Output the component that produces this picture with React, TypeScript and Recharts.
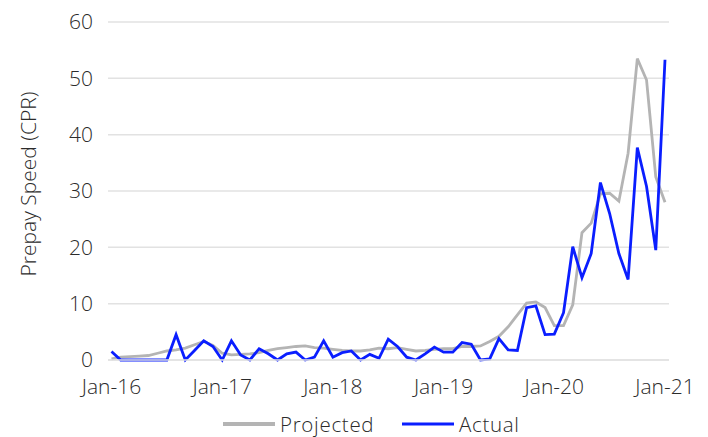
import { LineChart, Line, XAxis, YAxis, CartesianGrid } from 'recharts';

const monthNames = ['Jan', 'Feb', 'Mar', 'Apr', 'May', 'Jun', 'Jul', 'Aug', 'Sep', 'Oct', 'Nov', 'Dec'];
const years = ['16', '17', '18', '19', '20', '21'];

// monthly labels Jan-16 .. Jan-21
const categories: string[] = [];
years.forEach((yr, idx) => {
  monthNames.forEach((m, mi) => {
    if (idx < years.length - 1 || mi === 0) categories.push(`${m}-${yr}`);
  });
});

const xTicks = ['Jan-16', 'Jan-17', 'Jan-18', 'Jan-19', 'Jan-20', 'Jan-21'];
const yTicks = [0, 10, 20, 30, 40, 50, 60];

const projected = [
  0.2, 0.5, 0.6, 0.7, 0.8, 1.2, 1.6, 1.8, 2.1, 2.7, 3.3, 2.6,
  1.2, 0.9, 1.0, 1.1, 1.3, 1.7, 2.0, 2.2, 2.4, 2.5, 2.2, 2.1,
  1.9, 1.7, 1.6, 1.6, 1.8, 2.1, 2.0, 2.2, 1.9, 1.6, 1.7, 1.9,
  2.0, 2.0, 2.4, 2.4, 2.5, 3.3, 4.2, 5.9, 8.0, 10.1, 10.3, 9.3,
  6.1, 6.1, 9.8, 22.6, 24.3, 29.5, 29.6, 28.2, 36.7, 53.5, 49.7, 32.5,
  28.0,
];

const actual = [
  1.5, 0, 0, 0, 0, 0, 0, 4.5, 0, 1.7, 3.4, 2.4,
  0, 3.4, 0.9, 0, 2.0, 1.1, 0, 1.1, 1.4, 0, 0.5, 3.4,
  0.5, 1.3, 1.6, 0, 1.0, 0.3, 3.7, 2.4, 0.5, 0, 1.1, 2.3,
  1.4, 1.4, 3.1, 2.8, 0, 0.2, 3.8, 1.8, 1.7, 9.3, 9.6, 4.5,
  4.6, 8.4, 20.1, 14.6, 18.9, 31.5, 26.0, 18.9, 14.3, 37.7, 30.8, 19.5,
  53.3,
];

const data = categories.map((month, i) => ({ month, projected: projected[i], actual: actual[i] }));

const FONT = '"Open Sans", Lato, sans-serif';
const TEXT = '#2b2b2b';
const GRAY = '#b4b4b4';
const BLUE = '#0a1eff';

const YLabel = (props: any) => {
  const { viewBox } = props;
  const cx = viewBox.x + 28;
  const cy = viewBox.y + viewBox.height / 2 - 7;
  return (
    <text
      x={cx}
      y={cy}
      transform={`rotate(-90 ${cx} ${cy})`}
      textAnchor="middle"
      dominantBaseline="central"
      fill={TEXT}
      fontSize={21}
      fontWeight={300}
      fontFamily={FONT}
    >
      Prepay Speed (CPR)
    </text>
  );
};

const LegendItem = ({ color, label, width }: { color: string; label: string; width: number }) => (
  <div style={{ display: 'flex', alignItems: 'center', width, height: 22 }}>
    <svg width={52} height={6} style={{ marginRight: 5, display: 'block' }}>
      <line x1={0} y1={3} x2={52} y2={3} stroke={color} strokeWidth={color === GRAY ? 4 : 3} />
    </svg>
    <div
      style={{
        display: 'block',
        height: 22,
        fontSize: 20.5,
        lineHeight: '22px',
        fontWeight: 300,
        letterSpacing: 0.7,
        color: TEXT,
        fontFamily: FONT,
        whiteSpace: 'nowrap',
      }}
    >
      {label}
    </div>
  </div>
);

export default function App() {
  return (
    <div style={{ position: 'absolute', left: 0, top: 0, width: 708, height: 437, background: '#fff', overflow: 'hidden' }}>
      <LineChart
        width={708}
        height={437}
        data={data}
        margin={{ top: 22, right: 39, left: 0, bottom: 37 }}
      >
        <CartesianGrid vertical={false} stroke="#e2e2e2" strokeWidth={1.5} />
        <XAxis
          dataKey="month"
          ticks={xTicks}
          interval={0}
          height={40}
          axisLine={{ stroke: '#e2e2e2', strokeWidth: 1.5 }}
          tickLine={false}
          tickMargin={13}
          padding={{ left: 3.5, right: 4 }}
          tick={{ fill: TEXT, fontSize: 21, fontWeight: 300, fontFamily: FONT }}
        />
        <YAxis
          width={108}
          domain={[0, 60]}
          ticks={yTicks}
          axisLine={false}
          tickLine={false}
          tickMargin={9}
          tick={{ fill: TEXT, fontSize: 21, fontWeight: 300, fontFamily: FONT }}
          label={<YLabel />}
        />
        <Line
          type="linear"
          dataKey="projected"
          stroke={GRAY}
          strokeWidth={2.8}
          dot={false}
          isAnimationActive={false}
        />
        <Line
          type="linear"
          dataKey="actual"
          stroke={BLUE}
          strokeWidth={2.8}
          dot={false}
          isAnimationActive={false}
        />
      </LineChart>
      <div style={{ position: 'absolute', left: 223, top: 413, display: 'flex', alignItems: 'center' }}>
        <LegendItem color={GRAY} label="Projected" width={179} />
        <LegendItem color={BLUE} label="Actual" width={130} />
      </div>
    </div>
  );
}
